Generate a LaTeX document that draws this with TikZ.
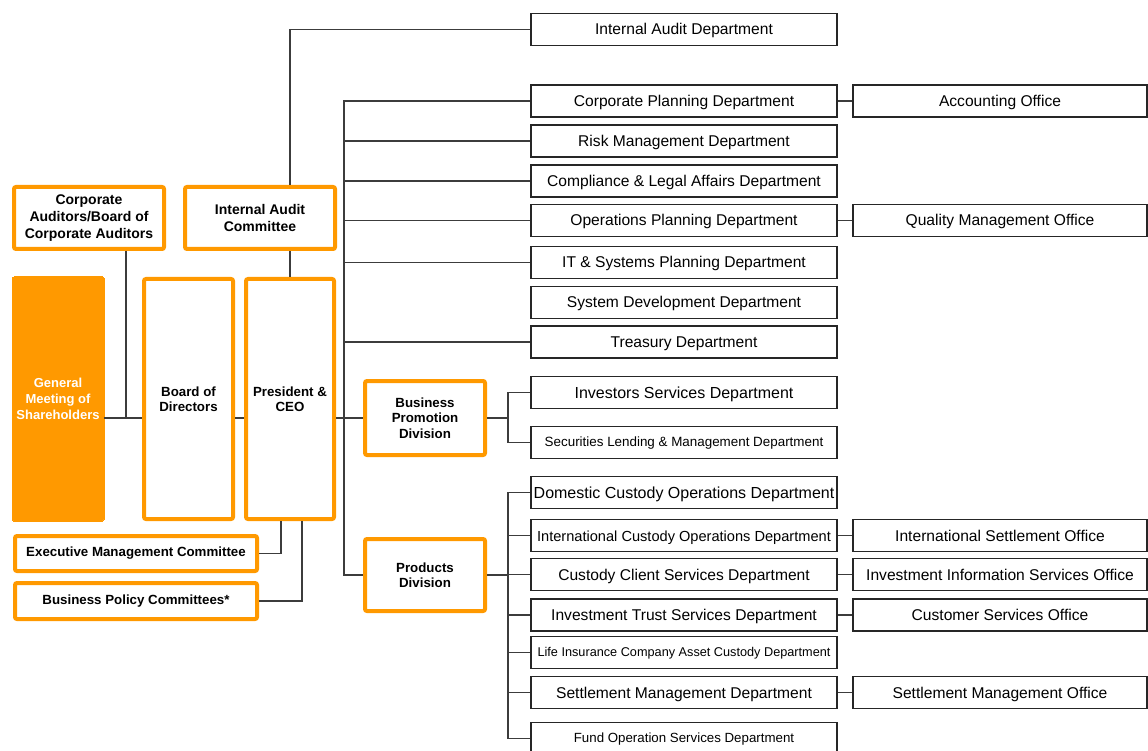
\documentclass[tikz,border=0pt]{standalone}
\usepackage{fontspec}
\setmainfont{Liberation Sans}
\usepackage{tikz}
\usetikzlibrary{positioning,calc}
\usepackage{xcolor}
\definecolor{orgorange}{RGB}{255,153,0}
\definecolor{orgline}{RGB}{60,60,60}
\tikzstyle{dept} = [rectangle, minimum width=306pt, minimum height=32pt, inner sep=0pt, text centered, text height=11pt, text depth=0pt, draw=black!85, fill=white, line width=1.2pt, font=\fontsize{15.6}{17}\selectfont]
\tikzstyle{smalldept} = [dept, text height=8pt]
\tikzstyle{office} = [dept, minimum width=294pt]
\tikzstyle{obox} = [rectangle, rounded corners=2pt, inner sep=0pt, align=center, draw=orgorange, fill=white, line width=4pt, font=\bfseries\fontsize{13.3}{15.5}\selectfont]
\tikzstyle{conn} = [draw=orgline, line width=1.3pt]

\begin{document}
\begin{tikzpicture}[x=1pt, y=-1pt]
\useasboundingbox (0,0) rectangle (1148,751);

% governance boxes
\node[obox, minimum width=150pt, minimum height=62pt, font=\bfseries\fontsize{14}{17}\selectfont] (cab) at (89,218) {Corporate\\Auditors/Board of\\Corporate Auditors};
\node[obox, minimum width=150pt, minimum height=62pt, font=\bfseries\fontsize{14}{17}\selectfont] (iac) at (260,218) {Internal Audit\\Committee};
\node[obox, minimum width=92pt, minimum height=244pt, fill=orgorange, line width=0pt, text=white, font=\bfseries\fontsize{13}{16}\selectfont] (gms) at (58,399) {General\\Meeting of\\Shareholders};
\node[obox, minimum width=89pt, minimum height=240pt, text depth=0pt] (bod) at (188.5,399) {Board of\\Directors};
\node[obox, minimum width=88pt, minimum height=240pt, text depth=0pt] (ceo) at (290,399) {President \&\\CEO};
\node[obox, minimum width=242pt, minimum height=35pt] (emc) at (136,553.5) {Executive Management Committee};
\node[obox, minimum width=242pt, minimum height=36pt] (bpc) at (136,601) {Business Policy Committees*};
\node[obox, minimum width=120pt, minimum height=74pt] (bpd) at (425,418) {Business\\Promotion\\Division};
\node[obox, minimum width=120pt, minimum height=72pt] (prd) at (425,575) {Products\\Division};

% departments
\node[dept] (iad) at (684,29.5) {Internal Audit Department};
\node[dept] (cpd) at (684,101) {Corporate Planning Department};
\node[dept] (rmd) at (684,141) {Risk Management Department};
\node[dept] (cld) at (684,181) {Compliance \& Legal Affairs Department};
\node[dept] (opd) at (684,220.5) {Operations Planning Department};
\node[dept] (itd) at (684,262.5) {IT \& Systems Planning Department};
\node[dept] (sdd) at (684,302.5) {System Development Department};
\node[dept] (trd) at (684,342) {Treasury Department};
\node[dept, font=\fontsize{16}{18}\selectfont] (isd) at (684,392.5) {Investors Services Department};
\node[smalldept, font=\fontsize{13.4}{15}\selectfont] (sld) at (684,442.5) {Securities Lending \& Management Department};
\node[dept, font=\fontsize{16}{18}\selectfont] (dcd) at (684,492.5) {Domestic Custody Operations Department};
\node[dept, font=\fontsize{14.6}{16}\selectfont] (icd) at (684,535.5) {International Custody Operations Department};
\node[dept] (ccd) at (684,574.5) {Custody Client Services Department};
\node[dept] (itsd) at (684,615) {Investment Trust Services Department};
\node[smalldept, font=\fontsize{12.7}{14}\selectfont] (lid) at (684,652.5) {Life Insurance Company Asset Custody Department};
\node[dept] (smd) at (684,692.5) {Settlement Management Department};
\node[smalldept, font=\fontsize{13.3}{15}\selectfont] (fod) at (684,738.5) {Fund Operation Services Department};

% offices
\node[office] (aco) at (1000,101) {Accounting Office};
\node[office] (qmo) at (1000,220.5) {Quality Management Office};
\node[office] (iso) at (1000,535.5) {International Settlement Office};
\node[office] (iio) at (1000,574.5) {Investment Information Services Office};
\node[office] (cso) at (1000,615) {Customer Services Office};
\node[office] (smo) at (1000,692.5) {Settlement Management Office};

% helper columns
\coordinate (cx) at (126,0);
\coordinate (tk) at (344,0);
\coordinate (bx) at (508,0);
\coordinate (e1) at (281,0);
\coordinate (e2) at (302,0);

% connectors
\draw[conn] (ceo.north) -- (ceo.north |- iac.south);
\draw[conn] (ceo.north |- iac.north) |- (iad.west);
\draw[conn] (cab.south -| cx) -- (cx |- bpd.west);
\draw[conn] (gms.east |- bpd.west) -- (bod.west |- bpd.west);
\draw[conn] (bod.east |- bpd.west) -- (ceo.west |- bpd.west);
\draw[conn] (ceo.east |- bpd.west) -- (bpd.west);
\draw[conn] (cpd.west) -| (tk |- prd.west) -- (prd.west);
\foreach \n in {rmd, cld, opd, itd, trd}
  \draw[conn] (tk |- \n.west) -- (\n.west);
\draw[conn] (emc.east) -| (e1 |- ceo.south);
\draw[conn] (bpc.east) -| (e2 |- ceo.south);

\draw[conn] (bpd.east) -- (bpd.east -| bx);
\draw[conn] (isd.west) -- (isd.west -| bx) |- (sld.west);
\draw[conn] (prd.east) -- (prd.east -| bx);
\draw[conn] (dcd.west) -- (dcd.west -| bx) |- (fod.west);
\foreach \n in {icd, ccd, itsd, lid, smd}
  \draw[conn] (bx |- \n.west) -- (\n.west);

\draw[conn] (cpd.east) -- (aco.west);
\draw[conn] (opd.east) -- (qmo.west);
\draw[conn] (icd.east) -- (iso.west);
\draw[conn] (ccd.east) -- (iio.west);
\draw[conn] (itsd.east) -- (cso.west);
\draw[conn] (smd.east) -- (smo.west);
\end{tikzpicture}
\end{document}
